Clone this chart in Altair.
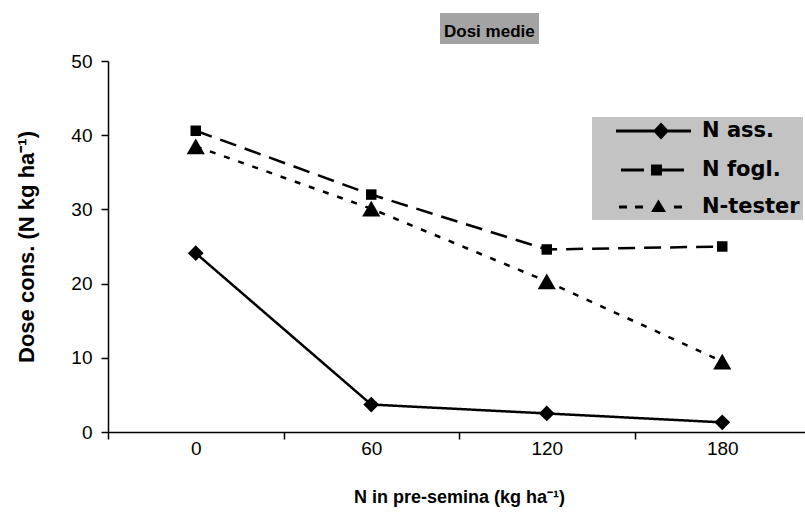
import altair as alt
import pandas as pd

x_labels = ["0", "60", "120", "180"]
series_names = ["N ass.", "N fogl.", "N-tester"]
n_ass = [24.1, 3.7, 2.5, 1.3]
n_fogl = [40.6, 32.0, 24.6, 25.0]
n_tester = [38.5, 30.1, 20.3, 9.5]
chart_title = ["Dosi medie"]
marker_shapes = ["diamond", "square", "triangle-up"]
marker_sizes = [250, 110, 330]

rows = []
for name, vals in zip(series_names, [n_ass, n_fogl, n_tester]):
    for xl, v in zip(x_labels, vals):
        rows.append({"dose": xl, "value": v, "series": name})
df = pd.DataFrame(rows)

NFONT = "Liberation Sans, Arial, sans-serif"
BFONT = "Liberation Sans, Arial, sans-serif"
LFONT = "DejaVu Sans, Verdana, sans-serif"

x_enc = alt.X(
    "dose:N", sort=x_labels,
    scale=alt.Scale(type="band", paddingInner=0, paddingOuter=0, range=[0, 702]),
    axis=alt.Axis(title="N in pre-semina (kg ha⁻¹)", tickBand="extent", labelAngle=0,
                  tickSize=7, labelPadding=0, titlePadding=30, titleFontSize=18),
)
y_enc = alt.Y(
    "value:Q", scale=alt.Scale(domain=[0, 50]),
    axis=alt.Axis(title="Dose cons. (N kg ha⁻¹)", values=[0, 10, 20, 30, 40, 50],
                  grid=False, tickSize=7, labelPadding=9, titlePadding=32, titleFontSize=22),
)

lines = alt.Chart(df).mark_line(color="black", strokeWidth=2.5).encode(
    x=x_enc, y=y_enc, detail="series:N",
    strokeDash=alt.StrokeDash("series:N", scale=alt.Scale(domain=series_names,
                              range=[[1, 0], [17, 9], [6, 9]]), legend=None),
)

point_layers = []
for name, shp, sz in zip(series_names, marker_shapes, marker_sizes):
    point_layers.append(
        alt.Chart(df).transform_filter(alt.datum.series == name).mark_point(
            filled=True, color="black", opacity=1, shape=shp, size=sz
        ).encode(x=x_enc, y=y_enc)
    )

# legend key glyphs: line segments drawn as thin filled bars plus the marker
legend_paths = [
    "M1.0,-0.14L8.5,-0.14L8.5,0.14L1.0,0.14Z M4.7,0L5.5,-0.85L6.3,0L5.5,0.85Z",
    "M1.5,-0.14L3.8,-0.14L3.8,0.14L1.5,0.14Z M5.6,-0.14L7.8,-0.14L7.8,0.14L5.6,0.14Z "
    "M4.5,-0.55L5.6,-0.55L5.6,0.55L4.5,0.55Z",
    "M1.3,-0.14L2.1,-0.14L2.1,0.14L1.3,0.14Z M2.9,-0.14L3.7,-0.14L3.7,0.14L2.9,0.14Z "
    "M6.8,-0.14L7.6,-0.14L7.6,0.14L6.8,0.14Z M5.25,-0.75L6.0,0.5L4.5,0.5Z",
]

legend_layer = alt.Chart(df).transform_filter("false").mark_point(
    filled=True, color="black", opacity=1
).encode(
    x=x_enc, y=y_enc,
    shape=alt.Shape("series:N", scale=alt.Scale(domain=series_names, range=legend_paths),
                    legend=alt.Legend(title=None, orient="none", legendX=484, legendY=56,
                                      fillColor="#c3c3c3", padding=3,
                                      symbolSize=400, symbolFillColor="black",
                                      symbolOpacity=1,
                                      labelFont=LFONT, labelFontSize=21, labelFontWeight="bold",
                                      labelColor="black", labelOffset=85, rowPadding=16,
                                      labelLimit=400, labelExpr="datum.label + '  '")),
)

# chart title drawn as the title of a bare legend so that it gets the grey box
title_layer = alt.Chart(df).transform_filter("false").mark_point(opacity=0).encode(
    x=x_enc, y=y_enc,
    color=alt.Color("series:N", scale=alt.Scale(domain=chart_title, range=["black"]),
                    legend=alt.Legend(title=chart_title[0], titleOrient="bottom",
                                      titleFont=BFONT, titleFontSize=17, titleFontWeight="bold",
                                      titleColor="black", titlePadding=4.5, titleAnchor="start",
                                      orient="none", legendX=332, legendY=-48,
                                      fillColor="#a3a3a3", padding=4,
                                      symbolSize=1, symbolOpacity=0, labelOffset=0,
                                      labelFontSize=1, labelOpacity=0)),
)

chart = alt.layer(lines, *point_layers, legend_layer, title_layer).resolve_scale(
    shape="independent", color="independent", strokeDash="independent"
).properties(
    width=697, height=371,
    autosize=alt.AutoSizeParams(type="none"),
    padding={"left": 108, "top": 61, "right": 0, "bottom": 96},
).configure_view(stroke=None).configure_axis(
    domainColor="black", tickColor="black", domainWidth=1.5, tickWidth=1.5,
    labelFont=NFONT, labelFontSize=19, labelColor="black",
    titleFont=BFONT, titleFontWeight="bold", titleColor="black",
)

chart.save("out.html", embed_options={"renderer": "svg", "actions": False})
